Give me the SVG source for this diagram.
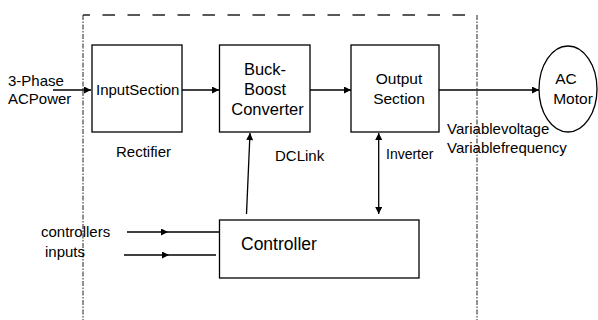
<svg xmlns="http://www.w3.org/2000/svg" width="598" height="320" viewBox="0 0 598 320">
<defs>
<marker id="ah" viewBox="0 0 10 10" refX="10" refY="5" markerWidth="9" markerHeight="7" markerUnits="userSpaceOnUse" orient="auto">
<path d="M0 0 L10 5 L0 10 z" fill="#000"/>
</marker>
<marker id="ahs" viewBox="0 0 10 10" refX="10" refY="5" markerWidth="9" markerHeight="7" markerUnits="userSpaceOnUse" orient="auto-start-reverse">
<path d="M0 0 L10 5 L0 10 z" fill="#000"/>
</marker>
</defs>
<style>
text{font-family:"Liberation Sans",Arial,sans-serif;font-size:15px;fill:#000}
.box{fill:#fff;stroke:#000;stroke-width:1.3}
.c{text-anchor:middle}
.conn line,.conn path{stroke:#000;stroke-width:1.3;fill:none}
.bnd{stroke:#222;fill:none}
</style>
<g id="boundary">
<line class="bnd" x1="83" y1="15" x2="477" y2="15" stroke-width="1.5" stroke-dasharray="12.5 12.5" stroke-dashoffset="5.5"/>
<line class="bnd" x1="83" y1="15" x2="83" y2="320" stroke-width="1" stroke-dasharray="5 1.5 1.5 1.5"/>
<line class="bnd" x1="477" y1="15" x2="477" y2="320" stroke-width="1" stroke-dasharray="5 1.5 1.5 1.5"/>
</g>
<g class="conn" id="connectors">
<line x1="53" y1="90" x2="91" y2="90" marker-end="url(#ah)"/>
<line x1="182" y1="90" x2="219" y2="90" marker-end="url(#ah)"/>
<line x1="310" y1="90" x2="351" y2="90" marker-end="url(#ah)"/>
<line x1="439" y1="90" x2="539" y2="90" marker-end="url(#ah)"/>
<line x1="246.5" y1="214" x2="250" y2="133" marker-end="url(#ah)"/>
<line x1="378.7" y1="133" x2="378.7" y2="214" marker-start="url(#ahs)" marker-end="url(#ah)"/>
<path d="M127 232 L168 232 L219 232" marker-mid="url(#ah)"/>
<path d="M124 255 L169 255 L216 255" marker-mid="url(#ah)"/>
</g>
<g id="input-section">
<rect class="box" x="92" y="45" width="90" height="87"/>
<text x="96" y="94.5">InputSection</text>
</g>
<g id="buck-boost">
<rect class="box" x="219.5" y="45" width="90.5" height="87"/>
<text class="c" x="265" y="75" style="font-size:16.5px">Buck-</text>
<text class="c" x="265" y="95" style="font-size:16.5px">Boost</text>
<text class="c" x="267.5" y="115" style="font-size:16.5px">Converter</text>
</g>
<g id="output-section">
<rect class="box" x="351" y="45" width="88" height="87"/>
<text class="c" x="399" y="84" style="font-size:15.5px">Output</text>
<text class="c" x="399" y="104" style="font-size:15.5px">Section</text>
</g>
<g id="ac-motor">
<ellipse class="box" cx="568" cy="89" rx="29" ry="43"/>
<text class="c" x="566" y="84" style="font-size:15.5px">AC</text>
<text class="c" x="573" y="104" style="font-size:15.5px">Motor</text>
</g>
<g id="controller">
<rect class="box" x="219.5" y="220" width="199.5" height="58"/>
<text x="241" y="250" style="font-size:17.5px">Controller</text>
</g>
<g id="labels">
<text x="8" y="86">3-Phase</text>
<text x="8" y="104">ACPower</text>
<text x="116" y="157">Rectifier</text>
<text x="275" y="161">DCLink</text>
<text x="386" y="159" style="font-size:14px">Inverter</text>
<text x="447" y="133.5">Variablevoltage</text>
<text x="447" y="153">Variablefrequency</text>
<text x="41" y="237">controllers</text>
<text x="45" y="257">inputs</text>
</g>
</svg>
